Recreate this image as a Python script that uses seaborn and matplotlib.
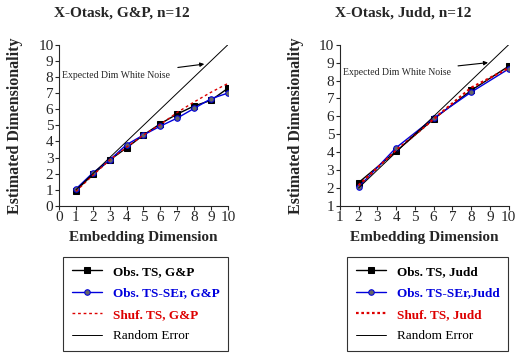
import matplotlib
matplotlib.use("Agg")
import matplotlib.pyplot as plt
import seaborn as sns

# data
gp_dim = [1, 2, 3, 4, 5, 6, 7, 8, 9, 10]
gp_obs = [0.95, 1.95, 2.85, 3.6, 4.4, 5.1, 5.7, 6.2, 6.55, 7.3]
gp_ser = [1.05, 2.05, 2.85, 3.8, 4.4, 4.95, 5.45, 6.05, 6.65, 7.0]
gp_shuf = [0.9, 1.9, 2.85, 3.65, 4.4, 5.05, 5.8, 6.45, 7.05, 7.6]
gp_rand = [1, 2, 3, 4, 5, 6, 7, 8, 9, 10]

judd_dim = [2, 4, 6, 8, 10]
judd_obs = [2.3, 4.05, 5.85, 7.45, 8.8]
judd_ser = [2.05, 4.25, 5.9, 7.35, 8.65]
judd_shuf = [2.15, 4.1, 5.85, 7.6, 8.7]
judd_rand = [2, 4, 6, 8, 10]

sns.set_style("ticks")
plt.rcParams['font.family'] = ['Liberation Serif', 'DejaVu Serif']

fig = plt.figure(figsize=(5.18, 3.55), dpi=100)
ax1 = fig.add_axes([0.114, 0.420, 0.326, 0.454])
ax2 = fig.add_axes([0.656, 0.420, 0.326, 0.454])


def draw(ax, dim, obs, ser, shuf, rand, tag, sep, shuf_ls):
    sns.lineplot(x=dim, y=obs, ax=ax, color='black', lw=1, marker='s',
                 markersize=5, markeredgecolor='black',
                 label='Obs. TS, ' + tag)
    sns.lineplot(x=dim, y=ser, ax=ax, color='#0000dd', lw=1, marker='o',
                 markersize=4, markerfacecolor='#666666', markeredgecolor='#0000dd',
                 label='Obs. TS-SEr' + sep + tag)
    sns.lineplot(x=dim, y=shuf, ax=ax, color='#dd0000', lw=shuf_ls[0],
                 linestyle=shuf_ls[1], label='Shuf. TS, ' + tag)
    sns.lineplot(x=rand, y=rand, ax=ax, color='black', lw=0.7,
                 label='Random Error')
    sns.despine(ax=ax)
    ax.tick_params(direction='out', length=3, width=0.8, labelsize=11, pad=1)
    ax.set_xlabel('Embedding Dimension', fontsize=11, fontweight='bold', labelpad=5)
    ax.set_ylabel('Estimated Dimensionality', fontsize=11.5, fontweight='bold',
                  labelpad=11)
    for sp in ax.spines.values():
        sp.set_linewidth(0.8)
    handles, labels = ax.get_legend_handles_labels()
    ax.get_legend().remove()
    return handles, labels


h1, l1 = draw(ax1, gp_dim, gp_obs, gp_ser, gp_shuf, gp_rand, 'G&P', ', ',
              (1, (0, (2, 2))))
ax1.set_xlim(0, 10)
ax1.set_ylim(0, 10)
ax1.set_xticks(range(0, 11))
ax1.set_yticks(range(0, 11))
ax1.annotate('Expected Dim White Noise', xy=(8.6, 8.8), xytext=(0.2, 8.1),
             fontsize=7, va='center',
             arrowprops=dict(arrowstyle='-|>', color='black', lw=0.8,
                             mutation_scale=6, shrinkA=3, shrinkB=0))

h2, l2 = draw(ax2, judd_dim, judd_obs, judd_ser, judd_shuf, judd_rand, 'Judd', ',',
              (1.6, (0, (1.2, 1.2))))
ax2.set_xlim(1, 10)
ax2.set_ylim(1, 10)
ax2.set_xticks(range(1, 11))
ax2.set_yticks(range(1, 11))
ax2.annotate('Expected Dim White Noise', xy=(8.9, 9.0), xytext=(1.15, 8.45),
             fontsize=7, va='center',
             arrowprops=dict(arrowstyle='-|>', color='black', lw=0.8,
                             mutation_scale=6, shrinkA=3, shrinkB=0))

fig.text(0.235, 0.962, 'X-Otask, G&P, n=12', ha='center', va='center',
         fontsize=11, fontweight='bold')
fig.text(0.778, 0.962, 'X-Otask, Judd, n=12', ha='center', va='center',
         fontsize=11, fontweight='bold')

text_colors = ['black', '#0000dd', '#dd0000', 'black']
for handles, labels, x0 in [(h1, l1, 0.122), (h2, l2, 0.670)]:
    leg = fig.legend(handles, labels, loc='upper left', bbox_to_anchor=(x0, 0.276),
                     frameon=True, fancybox=False, edgecolor='black',
                     fontsize=9.5, handlelength=2.3, borderpad=0.65,
                     labelspacing=0.7, borderaxespad=0)
    leg.get_frame().set_linewidth(0.8)
    for txt, c in zip(leg.get_texts(), text_colors):
        txt.set_color(c)
        if txt.get_text() != 'Random Error':
            txt.set_fontweight('bold')

fig.savefig('out.png', dpi=100)
